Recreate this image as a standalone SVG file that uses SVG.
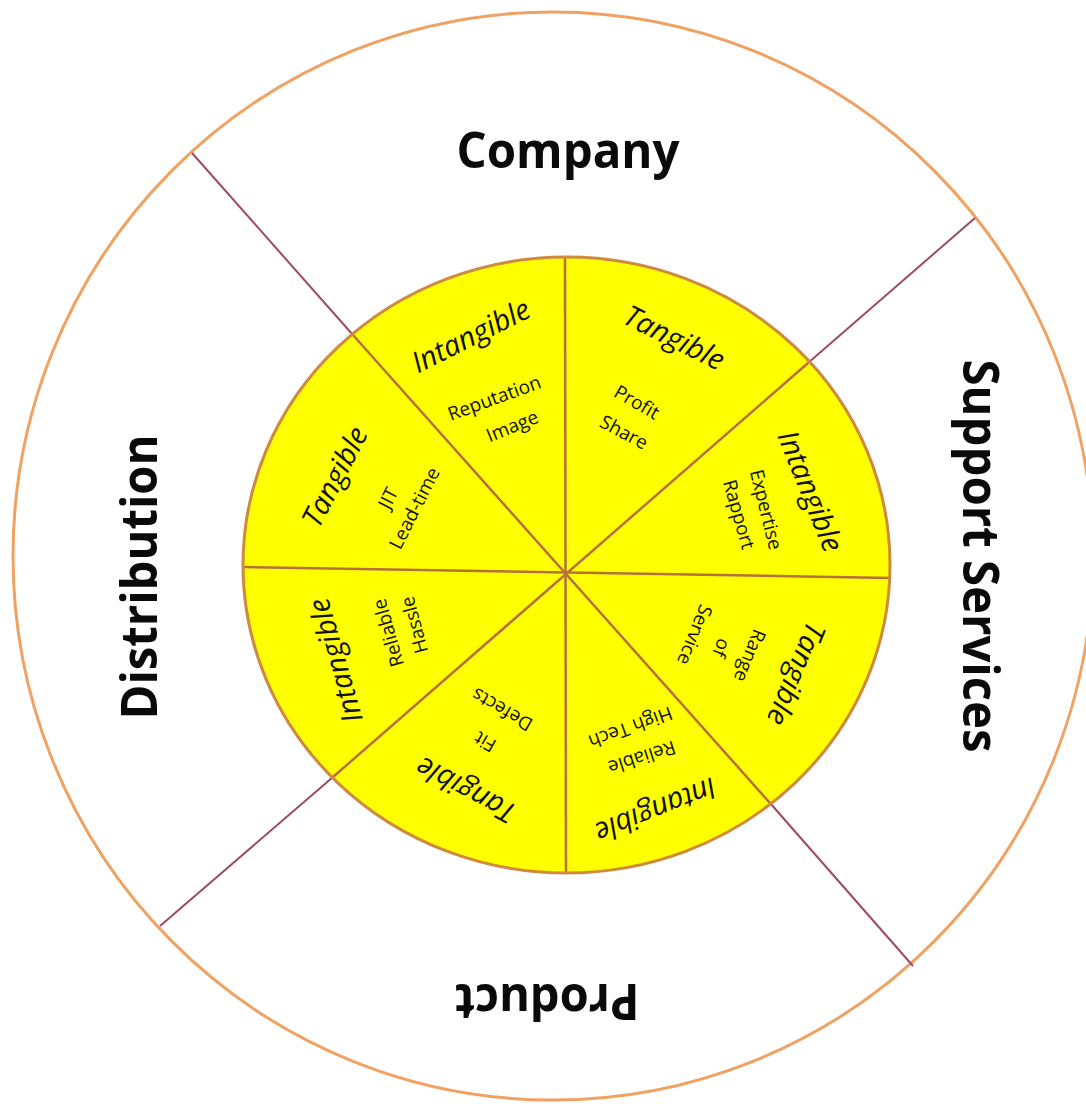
<svg xmlns="http://www.w3.org/2000/svg" width="1086" height="1104" viewBox="0 0 1086 1104">
<style>
.outer{fill:#ffffff;stroke:#EFA262;stroke-width:3}
.inner{fill:#FFFF00;stroke:none}
.innerEdge{fill:none;stroke:#CE8A3E;stroke-width:3}
.spoke{stroke:#B5703C;stroke-width:2.5;fill:none}
.ray{stroke:#9C4C62;stroke-width:2;fill:none}
.big{font-family:"Open Sans","Noto Sans","Liberation Sans",sans-serif;font-weight:bold;font-size:50px;fill:#0a0a0a;text-anchor:middle}
.kind{font-family:"Open Sans","Noto Sans","Liberation Sans",sans-serif;font-style:italic;font-size:29px;fill:#111;text-anchor:middle}
.item{font-family:"Open Sans","Noto Sans","Liberation Sans",sans-serif;font-size:19px;fill:#111;text-anchor:middle}
</style>
<rect width="1086" height="1104" fill="#ffffff"/>
<g id="outer-ring">
<ellipse class="outer" cx="553" cy="556" rx="540" ry="544"/>
</g>
<g id="inner-disc">
<ellipse class="inner" cx="566.5" cy="565" rx="323.5" ry="308"/>
</g>
<g id="connectors">
<line class="ray" x1="192" y1="153" x2="353" y2="335"/>
<line class="ray" x1="975" y1="218" x2="808" y2="363"/>
<line class="ray" x1="913" y1="966" x2="770" y2="803"/>
<line class="ray" x1="160" y1="926" x2="333" y2="777"/>
<line class="spoke" x1="353" y1="335" x2="770" y2="803"/>
<line class="spoke" x1="808" y1="363" x2="333" y2="777"/>
<line class="spoke" x1="243" y1="567" x2="890" y2="578"/>
<line class="spoke" x1="565" y1="257" x2="566" y2="873"/>
</g>
<g id="inner-edge">
<ellipse class="innerEdge" cx="566.5" cy="565" rx="323.5" ry="308"/>
</g>
<g id="company">
<text class="big" x="568" y="168" textLength="223" lengthAdjust="spacingAndGlyphs">Company</text>
</g>
<g id="support-services">
<text class="big" transform="translate(963,556) rotate(90)" x="0" y="0" textLength="393" lengthAdjust="spacingAndGlyphs">Support Services</text>
</g>
<g id="distribution">
<text class="big" transform="translate(157,577) rotate(-90)" x="0" y="0" textLength="285" lengthAdjust="spacingAndGlyphs">Distribution</text>
</g>
<g id="product">
<text class="big" transform="translate(547,984) rotate(180)" x="0" y="0" textLength="185" lengthAdjust="spacingAndGlyphs">Product</text>
</g>
<g id="company-tangible">
<text class="kind" transform="translate(673,340) rotate(26.6)" dy="0.26em">Tangible</text>
<text class="item" transform="translate(637,402) rotate(30)" dy="0.36em">Profit</text>
<text class="item" transform="translate(624,432) rotate(28)" dy="0.36em">Share</text>
</g>
<g id="support-intangible">
<text class="kind" transform="translate(808,492) rotate(68)" dy="0.26em">Intangible</text>
<text class="item" transform="translate(764,510) rotate(76)" dy="0.24em">Expertise</text>
<text class="item" transform="translate(737,515) rotate(74)" dy="0.24em">Rapport</text>
</g>
<g id="support-tangible">
<text class="kind" transform="translate(794,673) rotate(112.6)" dy="0.26em">Tangible</text>
<text class="item" transform="translate(748,655) rotate(112)" dy="0.24em">Range</text>
<text class="item" transform="translate(722,648) rotate(112)" dy="0.38em">of</text>
<text class="item" transform="translate(695,635) rotate(112)" dy="0.36em">Service</text>
</g>
<g id="product-intangible">
<text class="kind" transform="translate(655,808) rotate(158)" dy="0.26em">Intangible</text>
<text class="item" transform="translate(642,758) rotate(162)" dy="0.37em">Reliable</text>
<text class="item" transform="translate(630,726) rotate(160)" dy="0.26em">High Tech</text>
</g>
<g id="product-tangible">
<text class="kind" transform="translate(467,788) rotate(208)" dy="0.26em">Tangible</text>
<text class="item" transform="translate(485,742) rotate(210)" dy="0.36em">Fit</text>
<text class="item" transform="translate(502,710) rotate(210)" dy="0.37em">Defects</text>
</g>
<g id="distribution-intangible">
<text class="kind" transform="translate(338,660) rotate(254)" dy="0.26em">Intangible</text>
<text class="item" transform="translate(388,633) rotate(254)" dy="0.37em">Reliable</text>
<text class="item" transform="translate(414,625) rotate(255)" dy="0.37em">Hassle</text>
</g>
<g id="distribution-tangible">
<text class="kind" transform="translate(337,478) rotate(-62.6)" dy="0.26em">Tangible</text>
<text class="item" transform="translate(388,498) rotate(-63)" dy="0.36em">JIT</text>
<text class="item" transform="translate(414,508) rotate(-63)" dy="0.37em">Lead-time</text>
</g>
<g id="company-intangible">
<text class="kind" transform="translate(472,338) rotate(-26.6)" dy="0.26em">Intangible</text>
<text class="item" transform="translate(495,400) rotate(-20)" dy="0.24em">Reputation</text>
<text class="item" transform="translate(513,428) rotate(-22)" dy="0.24em">Image</text>
</g>
</svg>
